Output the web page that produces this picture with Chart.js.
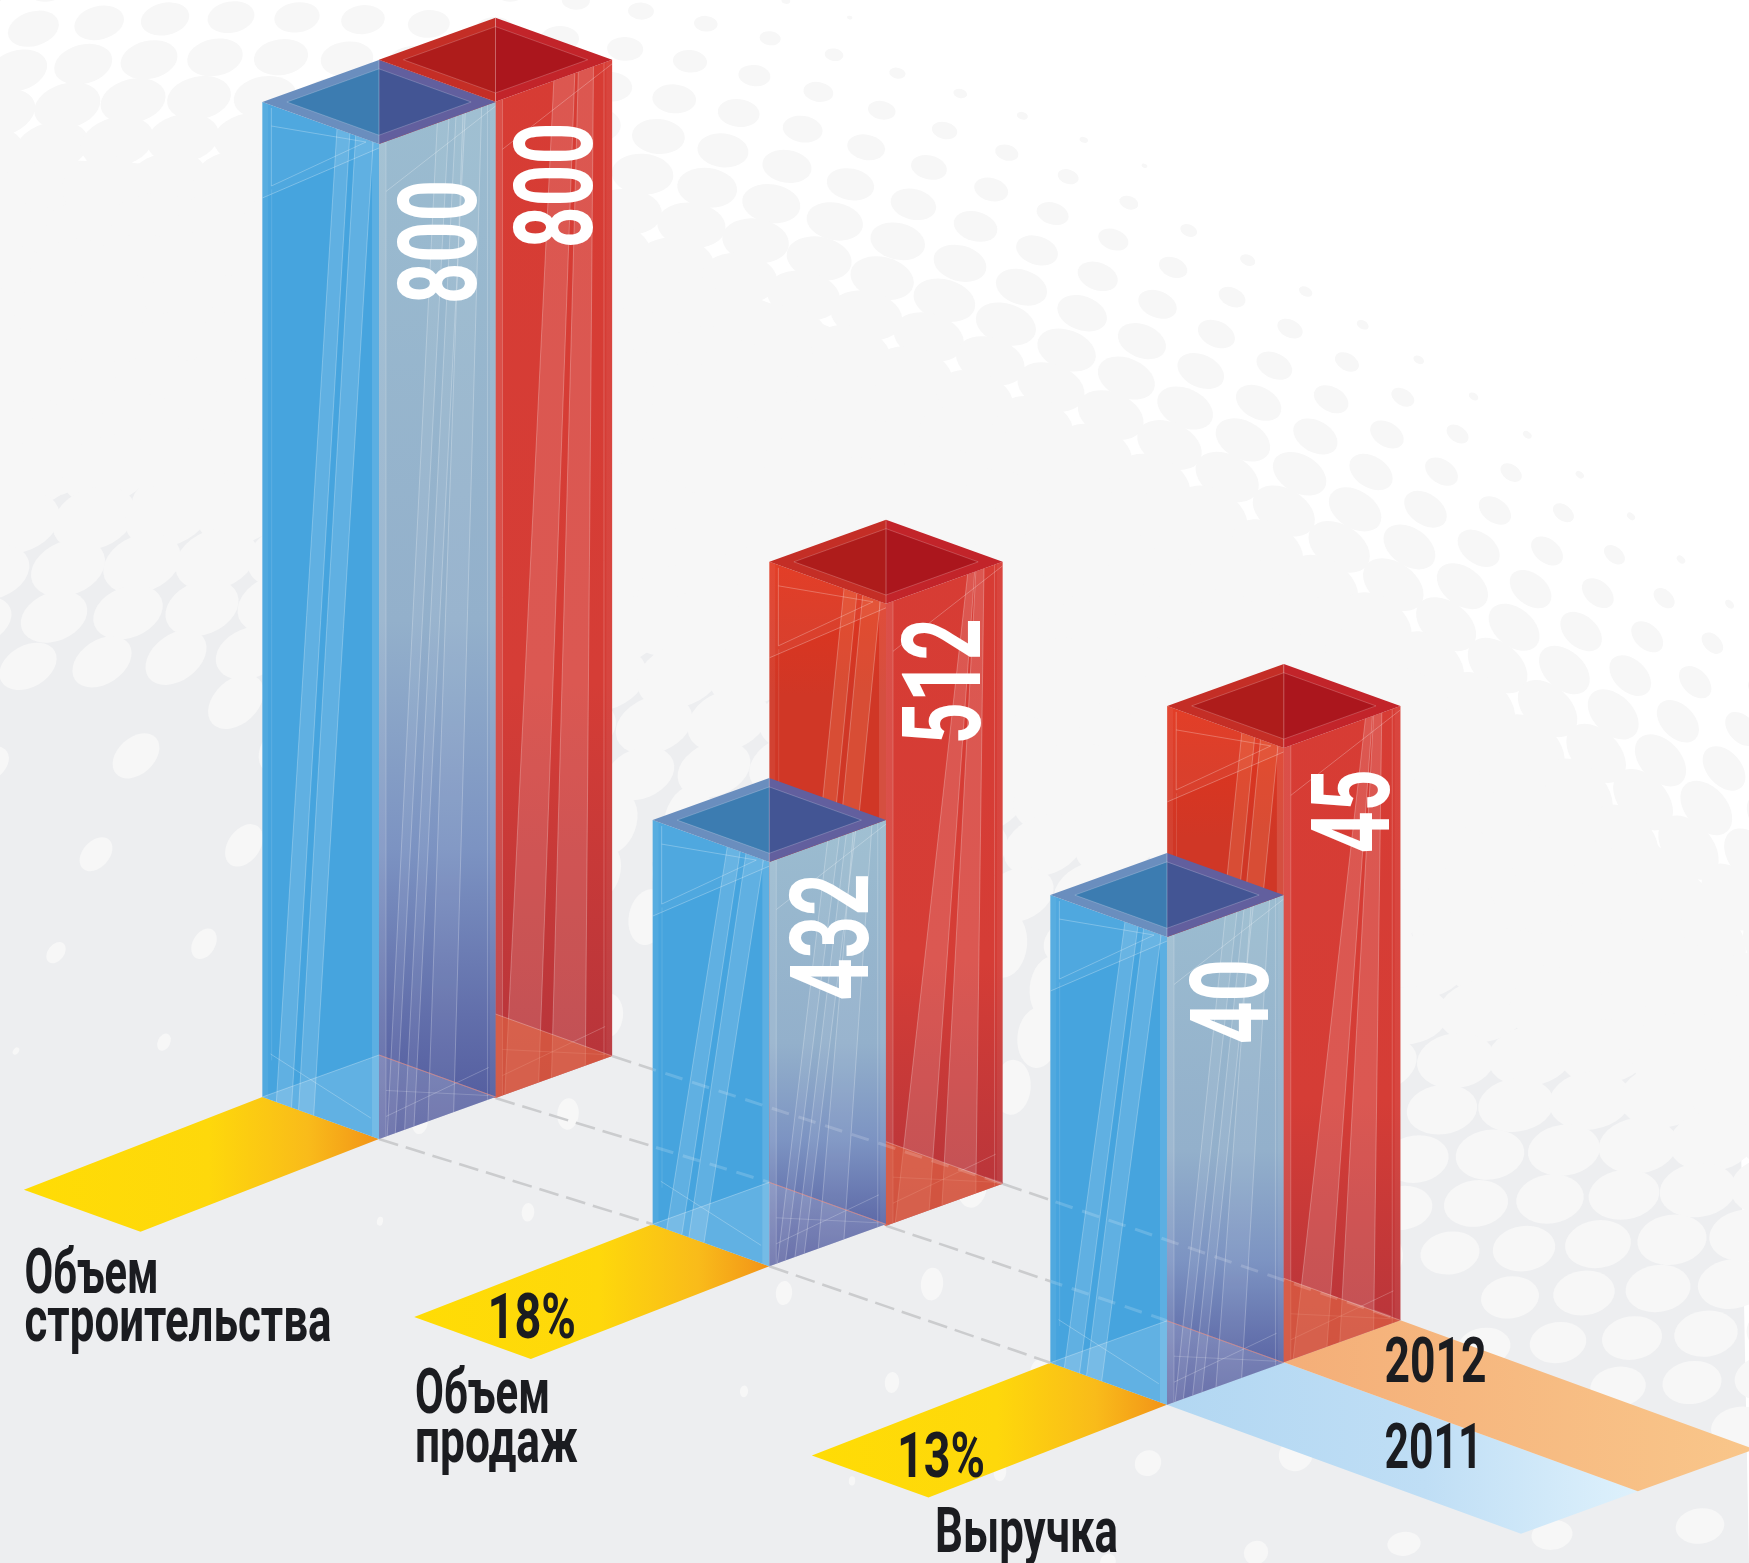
<!DOCTYPE html>
<html><head><meta charset="utf-8">
<style>html,body{margin:0;padding:0;background:#edeef0}canvas{display:block}</style>
<script src="https://cdn.jsdelivr.net/npm/chart.js@4"></script>
</head><body><canvas id="c" width="1749" height="1563"></canvas>
<script>
// ---------- data ----------
const categories = [['Объем','строительства'],['Объем','продаж'],['Выручка']];
const seriesNames = ['2011','2012'];
const labels2011 = [800,432,40];
const labels2012 = [800,512,45];
const growth = ['', '18%', '13%'];
// bar heights as actually drawn in the picture (they are not to scale with the printed labels)
const heights2011 = [800,325,376];
const heights2012 = [801,500,494];

// ---------- layout (isometric projection) ----------
const W=1749,H=1563;
const PX_PER_UNIT=995/800, AXIS_ZERO=1139;
const GROUND_DX=[[0.3,-3.4,0.3],[0.2,-3.3,0.5]];
const GROUND_DY=[[0,127.3,265.7],[-41,86.7,223.3]];
const ISO=0.36;
const VALUE_POS=[ // right baseline x, start y(bottom), length, per dataset/category
 [[476,304,124],[868.3,1000.5,127],[1268,1044,85]],
 [[592,248.3,125.6],[980,744.3,126],[1388.7,853.3,84]]];
const CAT_POS=[
 [[24.5,1292.7,134],[24.5,1341,307]],
 [[415,1413,135],[415,1462,163]],
 [[935,1551.7,183]]];
const GROWTH_POS=[null,[487.5,1338,88.5],[897,1476.7,88]];
const LEGEND_POS=[[1384.6,1468.3,98],[1384.6,1382.3,102]];
const INK='#1b1c20';

const clamp=(v,a,b)=>Math.max(a,Math.min(b,v));
function poly(ctx,pts,fill,stroke,lw){
  ctx.beginPath();pts.forEach((p,i)=>i?ctx.lineTo(p.x,p.y):ctx.moveTo(p.x,p.y));ctx.closePath();
  if(fill){ctx.fillStyle=fill;ctx.fill();}
  if(stroke){ctx.strokeStyle=stroke;ctx.lineWidth=lw||1;ctx.stroke();}
}
function seg(ctx,a,b,st,lw){ctx.beginPath();ctx.moveTo(a.x,a.y);ctx.lineTo(b.x,b.y);ctx.strokeStyle=st;ctx.lineWidth=lw||1;ctx.stroke();}
function vgrad(ctx,y0,y1,stops){const g=ctx.createLinearGradient(0,y0,0,y1);stops.forEach(s=>g.addColorStop(s[0],s[1]));return g;}
function hgrad(ctx,x0,x1,stops){const g=ctx.createLinearGradient(x0,0,x1,0);stops.forEach(s=>g.addColorStop(s[0],s[1]));return g;}
function fit(ctx,text,x,y,w,capH,color,rot,weight){
  const fs=capH/0.711;
  ctx.save();ctx.font=(weight||700)+' '+fs+'px Roboto';ctx.textBaseline='alphabetic';ctx.textAlign='left';
  const m=ctx.measureText(text).width;
  ctx.translate(x,y);if(rot)ctx.rotate(rot);ctx.scale(w/m,1);ctx.fillStyle=color;ctx.fillText(text,0,0);ctx.restore();
}

// ---------- decorative halftone background ----------
function yEdge(x){return -170-0.0113*x+2.563e-4*x*x;}
function yLow(x){return 582+0.2341*x+8.39e-5*x*x;}
const yGray=x=>yLow(x)-150;
function drawBackground(ctx){
  ctx.fillStyle='#ffffff';ctx.fillRect(0,0,W,H);
  const band=[],low=[];
  for(let x=0;x<=W;x+=20){band.push({x,y:yEdge(x)+330});low.push({x,y:yGray(x)});}
  poly(ctx,band.concat(low.slice().reverse()),'#f7f7f7');
  poly(ctx,low.concat([{x:W,y:H},{x:0,y:H}]),'#edeef0');
  const cx0=257,cy0=2157,deg=Math.PI/180;
  ctx.fillStyle='#f7f7f7';
  // upper lattice: concentric rows that grow out of the white corner
  for(let j=0;j<70;j++){
    const r=2700-40*j;if(r<300)break;
    for(let k=-40;k<60;k++){
      const s=k*66-16*j,phi=s/r;
      if(Math.abs(phi)>1.2)continue;
      const x=cx0+r*Math.sin(phi),y=cy0-r*Math.cos(phi);
      if(x<-70||x>W+70||y<-70||y>yGray(x)+30)continue;
      const dUp=y-yEdge(x);
      if(dUp<=0)continue;
      const a=40*Math.pow(clamp(dUp/340,0,1),0.8);
      if(a<1.5)continue;
      const rot=(-18+(phi/deg+7)*(53/43))*deg;
      ctx.beginPath();ctx.ellipse(x,y,a,a*0.66,rot,0,Math.PI*2);ctx.fill();
    }
  }
  // lower lattice: flat rows shrinking towards the bottom of the page
  for(let j=-4;j<34;j++){
    for(let k=-4;k<32;k++){
      const x=k*74-20*j+(j%2?6:0),y=380+j*48-0.06*x;
      if(x<-70||x>W+70||y>H+70)continue;
      const dLow=y-yLow(x);
      if(dLow<-170)continue;
      let a;
      if(dLow<0)a=36+(-dLow)*0.08;
      else{
        if(dLow>60+0.1*x&&(((k%2)+2)%2||((j%2)+2)%2))continue;
        const t=1-dLow/(520+0.25*x);if(t<=0)continue;
        a=36*t;
      }
      if(a<2.5)continue;
      let rot,asp;
      if(x>1400){rot=-8;asp=0.72;}
      else if(x>1100){rot=-40;asp=0.92;}
      else{rot=Math.max(-85,-22-clamp(dLow/400,0,1)*30-x*0.07);asp=0.68;}
      if(dLow<30){rot=Math.max(rot,-22);asp=0.7;}
      ctx.beginPath();ctx.ellipse(x,y,a,a*asp,rot*deg,0,Math.PI*2);ctx.fill();
    }
  }
}

// ---------- isometric bars ----------
function barGeom(chart,d,i){
  const el=chart.getDatasetMeta(d).data[i];
  const cx=el.x+GROUND_DX[d][i], by=el.base+GROUND_DY[d][i], h=el.base-el.y, hw=el.width, dp=hw*ISO;
  const b={L:{x:cx-hw,y:by-dp},C:{x:cx,y:by},R:{x:cx+hw,y:by-dp},B:{x:cx,y:by-2*dp}};
  const up=p=>({x:p.x,y:p.y-h});
  return Object.assign(b,{tL:up(b.L),tC:up(b.C),tR:up(b.R),tB:up(b.B),h,hw,dp,cx,by});
}
const PAL=[
 {left:[[0,'#46a4de'],[1,'#46a4de']],
  right:[[0,'#9bbcd0'],[0.5,'#93b0cb'],[0.72,'#7c93c2'],[0.88,'#626fab'],[1,'#4f579b']],
  rimL:'#6a8ebe',inL:'#3c7cb1',rimR:'#625f9e',inR:'#435594',floor:'rgba(255,255,255,0.15)',stripe:'rgba(255,255,255,0.14)',rStripe:'rgba(255,255,255,0.06)'},
 {left:[[0,'#e2341c'],[0.2,'#d03726'],[1,'#d03726']],
  right:[[0,'#d73c34'],[0.6,'#d53d36'],[1,'#b5343b']],
  rimL:'#c42e26',inL:'#ae1c1b',rimR:'#c2242a',inR:'#ab161d',floor:'rgba(232,110,70,0.55)',stripe:'rgba(255,190,130,0.17)',rStripe:'rgba(255,255,255,0.14)'}
];
function fp(a,b,u,h){return {x:a.x+(b.x-a.x)*u,y:a.y+(b.y-a.y)*u-h};}
function stripe(ctx,a,b,h,u0,u1,u2,u3,fill){
  const pts=[fp(a,b,u0,0),fp(a,b,u1,0),fp(a,b,u3,h),fp(a,b,u2,h)];
  poly(ctx,pts,fill);
  seg(ctx,pts[0],pts[3],'rgba(255,255,255,0.26)');seg(ctx,pts[1],pts[2],'rgba(255,255,255,0.26)');
}
function drawFace(ctx,g,p,side,d){
  const a=side==='left'?g.L:g.C,b=side==='left'?g.C:g.R,h=g.h;
  const pts=[a,b,fp(b,b,0,h),fp(a,a,0,h)];
  poly(ctx,pts,vgrad(ctx,g.tC.y-g.dp,g.by,side==='left'?p.left:p.right));
  ctx.save();ctx.beginPath();pts.forEach((q,i)=>i?ctx.lineTo(q.x,q.y):ctx.moveTo(q.x,q.y));ctx.closePath();ctx.clip();
  if(side==='left'){
    poly(ctx,[fp(a,b,0.94,0),fp(a,b,1,0),fp(a,b,1,h),fp(a,b,0.94,h)],'rgba(255,255,255,0.12)');
    poly(ctx,[fp(a,b,0,0),fp(a,b,0.05,0),fp(a,b,0.05,h),fp(a,b,0,h)],'rgba(255,255,255,0.06)');
    stripe(ctx,a,b,h,0.12,0.25,0.64,0.75,p.stripe);
    stripe(ctx,a,b,h,0.31,0.44,0.80,0.95,p.stripe);
    const t0=fp(a,a,0,h-96),t1=fp(b,b,0,h-4);
    poly(ctx,[fp(a,a,0,h),fp(b,b,0,h),t1,t0],'rgba(255,255,255,0.05)');
    seg(ctx,t0,t1,'rgba(255,255,255,0.28)');
    const w0={x:a.x+9,y:a.y-h+24},w1={x:b.x-13,y:b.y-h-2},w2={x:a.x+9,y:a.y-h+84},w3={x:a.x+9,y:a.y-h+6};
    seg(ctx,w0,w1,'rgba(255,255,255,0.26)');seg(ctx,w2,w1,'rgba(255,255,255,0.26)');seg(ctx,w3,w2,'rgba(255,255,255,0.26)');
    seg(ctx,fp(a,b,0.08,h-84),fp(a,b,0.08,40),'rgba(255,255,255,0.12)');
    seg(ctx,fp(a,b,0.07,46),fp(a,b,0.93,18),'rgba(255,255,255,0.25)');
  } else {
    poly(ctx,[fp(a,b,0,0),fp(a,b,0.06,0),fp(a,b,0.06,h),fp(a,b,0,h)],'rgba(255,255,255,0.10)');
    poly(ctx,[fp(a,b,0.95,0),fp(a,b,1,0),fp(a,b,1,h),fp(a,b,0.95,h)],'rgba(255,255,255,0.05)');
    if(d===1){
      const tall=h>900;
      stripe(ctx,a,b,h,0.08,0.37,tall?0.5:0.70,tall?0.68:0.76,p.rStripe);
      stripe(ctx,a,b,h,0.48,0.77,tall?0.71:0.77,tall?0.84:0.84,p.rStripe);
    } else {
      stripe(ctx,a,b,h,0.07,0.14,0.50,0.60,p.rStripe);
      stripe(ctx,a,b,h,0.22,0.30,0.66,0.74,p.rStripe);
      stripe(ctx,a,b,h,0.42,0.64,0.72,0.88,p.rStripe);
    }
    seg(ctx,fp(a,b,0.06,0),fp(a,b,0.06,h),'rgba(255,255,255,0.2)');
    seg(ctx,fp(a,b,0.93,0),fp(a,b,0.93,h),'rgba(255,255,255,0.2)');
    seg(ctx,fp(a,b,0.06,h-50),fp(a,b,1,h-4),'rgba(255,255,255,0.26)');
    seg(ctx,fp(a,b,0.06,20),fp(a,b,0.94,32),'rgba(255,255,255,0.22)');
    seg(ctx,fp(a,b,0.06,46),fp(a,b,0.94,4),'rgba(255,255,255,0.18)');
  }
  ctx.restore();
}
function drawFloor(ctx,g,p){
  poly(ctx,[g.L,g.B,g.R,g.C],p.floor);
  seg(ctx,g.L,g.B,'rgba(255,255,255,0.28)');seg(ctx,g.B,g.R,'rgba(255,255,255,0.28)');
}
function drawTop(ctx,g,p){
  poly(ctx,[g.tL,g.tB,g.tC],p.rimL);poly(ctx,[g.tB,g.tR,g.tC],p.rimR);
  const k=0.79,cy=g.tL.y,m=q=>({x:g.cx+(q.x-g.cx)*k,y:cy+(q.y-cy)*k});
  poly(ctx,[m(g.tL),m(g.tB),m(g.tC)],p.inL);poly(ctx,[m(g.tB),m(g.tR),m(g.tC)],p.inR);
  poly(ctx,[m(g.tL),m(g.tB),m(g.tR),m(g.tC)],null,'rgba(255,255,255,0.2)');
  seg(ctx,g.tB,g.tC,'rgba(255,255,255,0.28)');
}
function drawBar(ctx,g,p,d){
  drawFace(ctx,g,p,'left',d);
  drawFace(ctx,g,p,'right',d);
  drawFloor(ctx,g,p);
  drawTop(ctx,g,p);
}
function ribbon(ctx,a,b,off,grad){
  poly(ctx,[a,b,{x:b.x+off.x,y:b.y+off.y},{x:a.x+off.x,y:a.y+off.y}],grad);
}

const isoPlugin={
  id:'iso',
  beforeDraw(chart){drawBackground(chart.ctx);},
  afterDatasetsDraw(chart){
    const ctx=chart.ctx,n=categories.length;
    const geo=[0,1].map(d=>categories.map((_,i)=>barGeom(chart,d,i)));
    const blue=geo[0],red=geo[1];
    blue.forEach(g=>{
      ribbon(ctx,g.L,g.C,{x:-238.5,y:92.8},hgrad(ctx,g.L.x-238.5,g.C.x,[[0,'#ffdc05'],[0.52,'#fed80b'],[0.8,'#f9bb1a'],[1,'#f29318']]));
    });
    const gB=blue[n-1],gR=red[n-1];
    ribbon(ctx,gB.C,gR.C,{x:354,y:129},hgrad(ctx,gB.C.x,gB.C.x+470,[[0,'#b2d7f2'],[0.55,'#bfdef5'],[1,'#def1fc']]));
    ribbon(ctx,gR.C,gR.R,{x:354,y:129},hgrad(ctx,gR.C.x,W,[[0,'#f4ae78'],[1,'#f9c68a']]));
    const gaps=[];
    ctx.save();ctx.setLineDash([20,8]);ctx.lineCap='butt';
    for(let i=0;i<n-1;i++){
      gaps.push([blue[i].C,blue[i+1].L],[red[i].C,{x:blue[i+1].cx,y:blue[i+1].B.y}],[red[i].R,red[i+1].R]);
    }
    gaps.forEach(s=>seg(ctx,s[0],s[1],'#cbccce',2.6));
    ctx.restore();
    for(let i=0;i<n;i++){
      drawBar(ctx,red[i],PAL[1],1);
      drawBar(ctx,blue[i],PAL[0],0);
      seg(ctx,blue[i].B,blue[i].R,'rgba(240,110,90,0.5)');
    }
    // ghost dashes seen through the glass bars
    ctx.save();ctx.beginPath();
    blue.concat(red).forEach(g=>{
      [g.L,g.C,g.R,g.tR,g.tB,g.tL].forEach((q,i)=>i?ctx.lineTo(q.x,q.y):ctx.moveTo(q.x,q.y));ctx.closePath();
    });
    ctx.clip();ctx.setLineDash([18,10]);
    gaps.forEach(s=>seg(ctx,s[0],s[1],'rgba(255,255,255,0.17)',3));
    ctx.restore();
    [labels2011,labels2012].forEach((vals,d)=>vals.forEach((v,i)=>{
      const q=VALUE_POS[d][i];
      fit(ctx,String(v),q[0],q[1],q[2],78,'#ffffff',-Math.PI/2,700);
    }));
    categories.forEach((lines,i)=>lines.forEach((t,l)=>{
      const q=CAT_POS[i][l];fit(ctx,t,q[0],q[1],q[2],45,INK,0,700);
    }));
    growth.forEach((t,i)=>{
      if(!t)return;const q=GROWTH_POS[i];fit(ctx,t,q[0],q[1],q[2],45,INK,0,700);
    });
    seriesNames.forEach((t,d)=>{
      const q=LEGEND_POS[d];fit(ctx,t,q[0],q[1],q[2],45,INK,0,700);
    });
  }
};

new Chart(document.getElementById('c'),{
  type:'bar',
  data:{labels:categories,datasets:[
    {label:seriesNames[0],data:heights2011,backgroundColor:'rgba(0,0,0,0)',borderWidth:0},
    {label:seriesNames[1],data:heights2012,backgroundColor:'rgba(0,0,0,0)',borderWidth:0}
  ]},
  options:{
    responsive:false,animation:false,devicePixelRatio:1,
    layout:{padding:{left:240,right:327,top:0,bottom:H-AXIS_ZERO}},
    categoryPercentage:0.592,barPercentage:1,
    scales:{
      x:{display:false,grid:{display:false},offset:true},
      y:{display:false,min:0,max:AXIS_ZERO/PX_PER_UNIT,grid:{display:false}}
    },
    plugins:{legend:{display:false},title:{display:false},tooltip:{enabled:false}}
  },
  plugins:[isoPlugin]
});
</script></body></html>
